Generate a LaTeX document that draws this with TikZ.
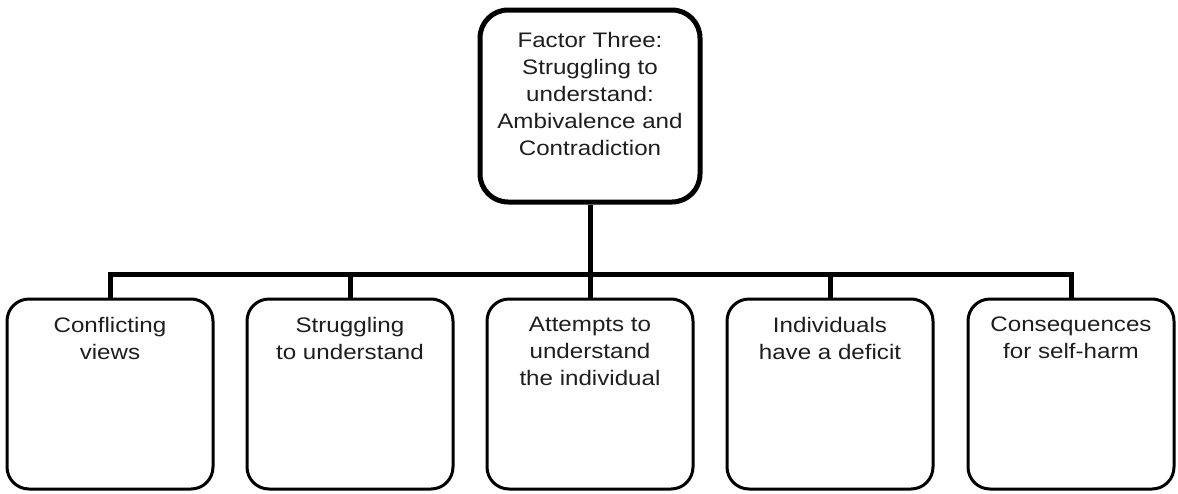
\documentclass[tikz,border=0pt]{standalone}
\usepackage{fontspec}
\setmainfont[FakeStretch=1.15]{Liberation Sans}
\definecolor{txtc}{HTML}{1E1E1E}
\begin{document}
\begin{tikzpicture}[x=1pt,y=-1pt,
  topbox/.style={draw=black,line width=5pt,rounded corners=28pt,minimum width=220pt,minimum height=192pt,inner sep=0pt},
  subbox/.style={draw=black,line width=3pt,rounded corners=22pt,minimum width=206pt,minimum height=190pt,inner sep=0pt},
  lbl/.style={anchor=north,inner sep=0pt,align=center,text=txtc,font=\fontsize{21}{27}\selectfont},
  conn/.style={draw=black,line width=5pt,line join=miter}]
\useasboundingbox (0,0) rectangle (1178,493);
\node[topbox] (top) at (590,106) {};
\node[lbl] (ttop) at ([yshift=-24.5pt]top.north) {Factor Three:\\Struggling to\\understand:\\Ambivalence and\\Contradiction};
\node[subbox] (b1) at (110,394) {};
\node[subbox] (b2) at (350,394) {};
\node[subbox] (b3) at (590,394) {};
\node[subbox] (b4) at (830,394) {};
\node[subbox] (b5) at (1071,394) {};
\node[lbl] (t1) at ([yshift=-19.5pt]b1.north) {Conflicting\\views};
\node[lbl] (t2) at ([yshift=-19.5pt]b2.north) {Struggling\\to understand};
\node[lbl] (t3) at ([yshift=-19.5pt]b3.north) {Attempts to\\understand\\the individual};
\node[lbl] (t4) at ([yshift=-19.5pt]b4.north) {Individuals\\have a deficit};
\node[lbl] (t5) at ([yshift=-19.5pt]b5.north) {Consequences\\for self-harm};
\coordinate (bar) at (0,274);
\draw[conn] (b1.north) -- (b1.north |- bar) -- (b5.north |- bar) -- (b5.north);
\draw[conn] (top.south) -- (top.south |- bar);
\draw[conn] (b2.north) -- (b2.north |- bar);
\draw[conn] (b3.north) -- (b3.north |- bar);
\draw[conn] (b4.north) -- (b4.north |- bar);
\end{tikzpicture}
\end{document}
